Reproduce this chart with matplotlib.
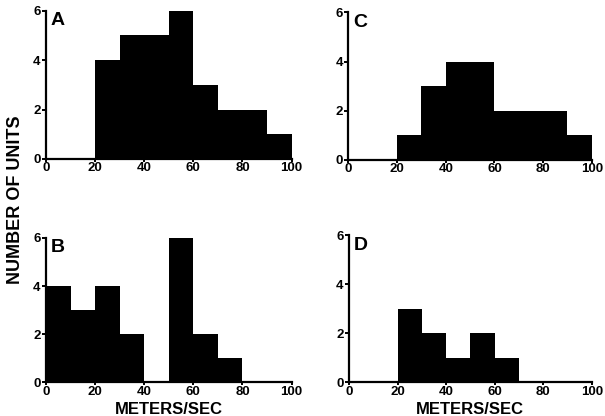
import numpy as np
import matplotlib.pyplot as plt

# bin edges (meters/sec) and counts per panel
edges = [0, 10, 20, 30, 40, 50, 60, 70, 80, 90, 100]
counts_a = [0, 0, 4, 5, 5, 6, 3, 2, 2, 1]
counts_b = [4, 3, 4, 2, 0, 6, 2, 1, 0, 0]
counts_c = [0, 0, 1, 3, 4, 4, 2, 2, 2, 1]
counts_d = [0, 0, 3, 2, 1, 2, 1, 0, 0, 0]
xticks = [0, 20, 40, 60, 80, 100]
yticks = [0, 2, 4, 6]

plt.rcParams['font.family'] = ['Liberation Sans', 'DejaVu Sans']
plt.rcParams['font.weight'] = 'bold'

fig = plt.figure(figsize=(6.05, 4.16), dpi=100)

# [left, bottom, width, height]
boxes = {
    "A": [0.076, 0.618, 0.406, 0.356],
    "C": [0.576, 0.616, 0.402, 0.354],
    "B": [0.076, 0.081, 0.406, 0.347],
    "D": [0.577, 0.081, 0.401, 0.354],
}
data = {"A": counts_a, "B": counts_b, "C": counts_c, "D": counts_d}

for name, box in boxes.items():
    ax = fig.add_axes(box)
    ax.stairs(data[name], edges, fill=True, color="black", linewidth=0)
    ax.set_xlim(0, 100)
    ax.set_ylim(0, 6)
    ax.set_xticks(xticks)
    ax.set_yticks(yticks)
    for s in ["top", "right"]:
        ax.spines[s].set_visible(False)
    for s in ["left", "bottom"]:
        ax.spines[s].set_linewidth(1.6)
    ax.tick_params(axis="y", direction="out", length=3, width=1.4, pad=1,
                   labelsize=9.5)
    ax.tick_params(axis="x", direction="out", length=2, width=1.4, pad=0.5,
                   labelsize=9.5)
    for lab in ax.get_xticklabels() + ax.get_yticklabels():
        lab.set_fontweight("bold")
    ax.text(0.02, 0.99, name, transform=ax.transAxes, fontsize=14,
            fontweight="bold", va="top", ha="left")

# shared x labels under the bottom panels
for cx in (0.279, 0.777):
    fig.text(cx, 0.034, "METERS/SEC", fontsize=12, fontweight="bold",
             ha="center", va="top")

fig.text(0.025, 0.52, "NUMBER OF UNITS", rotation=90, fontsize=13,
         fontweight="bold", ha="center", va="center")

fig.savefig("out.png", dpi=100)
